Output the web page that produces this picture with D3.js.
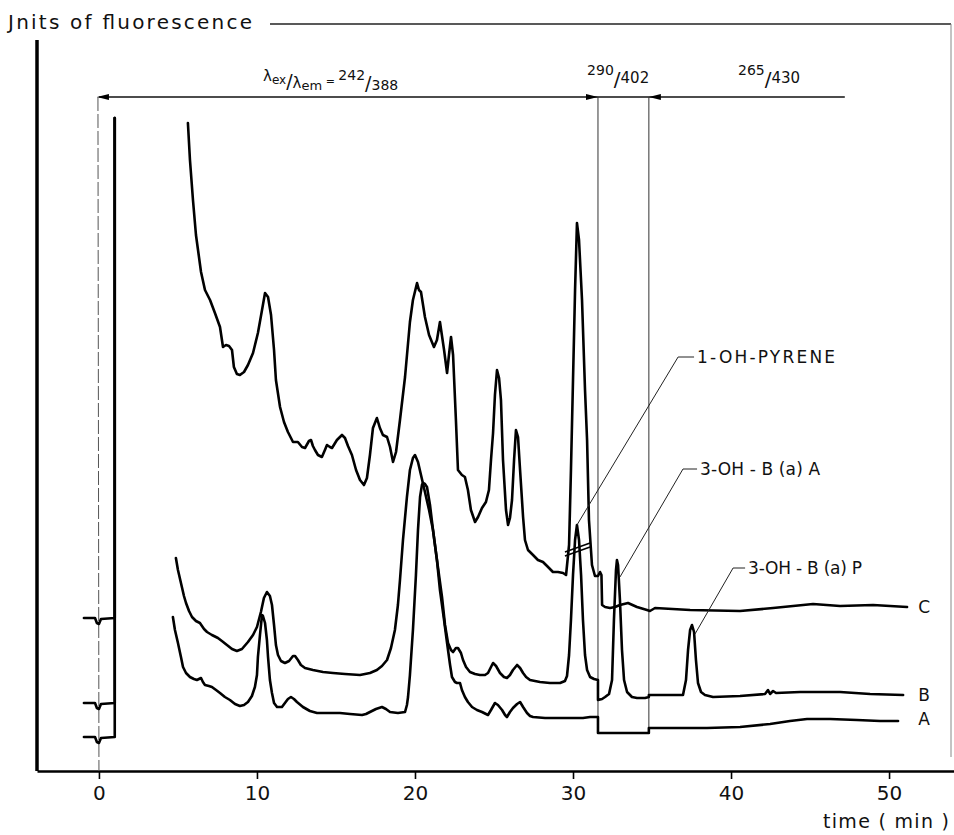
<!DOCTYPE html>
<html><head><meta charset="utf-8">
<script src="https://cdn.jsdelivr.net/npm/d3@7"></script>
<style>body{margin:0;background:#fff}svg{display:block}text{font-family:"DejaVu Sans",sans-serif;fill:#111}</style>
</head><body>
<svg id="chart" width="954" height="835"></svg>
<script>
// ---- data (time in min, fluorescence in arbitrary units) ----
const xTicks = [0, 10, 20, 30, 40, 50];
const traceLabels = ["C", "B", "A"];
const traceC = [
 [-0.95,153],[-0.25,153],[-0.13,148],[0,147],[0.13,152],[1.0,153],[1.0,653], null,
 [5.63,648],[5.76,611],[5.95,571],[6.14,536],[6.27,521],[6.46,499],[6.71,481],[7.03,471],[7.34,458],[7.66,444],[7.85,424],[8.04,426],[8.23,425],[8.42,421],[8.54,404],[8.73,397],[8.92,396],[9.18,399],[9.43,406],[9.75,418],[10.06,438],[10.32,461],[10.51,478],[10.70,474],[10.89,456],[11.08,421],[11.20,391],[11.46,364],[11.71,349],[11.96,339],[12.28,329],[12.59,329],[12.85,324],[13.04,323],[13.29,330],[13.42,331],[13.54,325],[13.67,321],[13.86,316],[14.11,314],[14.30,321],[14.43,326],[14.62,324],[14.75,323],[15.06,331],[15.38,336],[15.57,333],[15.76,325],[16.01,316],[16.27,301],[16.52,291],[16.77,286],[16.96,293],[17.15,316],[17.34,343],[17.59,353],[17.78,343],[17.97,336],[18.23,334],[18.42,324],[18.61,309],[18.80,319],[19.05,351],[19.37,394],[19.68,449],[19.87,471],[20.13,488],[20.25,481],[20.38,479],[20.63,454],[20.89,436],[21.20,424],[21.39,431],[21.58,449],[21.84,421],[22.03,398],[22.15,416],[22.28,434],[22.41,416],[22.59,351],[22.72,301],[22.97,296],[23.16,294],[23.35,281],[23.54,261],[23.80,249],[23.99,254],[24.24,263],[24.49,269],[24.68,281],[24.81,311],[24.94,338],[25.06,376],[25.19,401],[25.32,393],[25.44,371],[25.57,311],[25.76,261],[25.89,246],[26.01,253],[26.14,271],[26.27,311],[26.39,341],[26.52,334],[26.65,301],[26.84,254],[26.96,231],[27.15,221],[27.47,216],[27.78,211],[28.10,209],[28.42,204],[28.73,199],[29.05,199],[29.37,198],[29.56,196],[29.75,226],[29.87,301],[30.00,391],[30.13,481],[30.25,548],[30.38,531],[30.57,471],[30.76,381],[30.89,331],[31.01,251],[31.20,206],[31.39,195],[31.58,195],[31.71,199],[31.80,196],[31.84,166],[32.03,164],[32.34,163],[32.66,164],[32.97,166],[33.48,168],[34.05,164],[34.68,161],[34.87,160],[35.19,163],[37.41,161],[40.57,160],[42.66,163],[45.19,167],[46.90,165],[48.99,166],[51.14,164]
];
const traceB = [
 [-0.95,68],[-0.25,68],[-0.13,63],[0,62],[0.13,67],[1.0,68],[1.0,653], null,
 [4.87,213],[5.00,201],[5.19,188],[5.38,175],[5.51,168],[5.70,160],[5.89,154],[6.14,150],[6.39,148],[6.65,142],[6.84,139],[7.15,136],[7.53,133],[7.78,130],[8.10,126],[8.42,122],[8.73,120],[9.05,122],[9.43,129],[9.75,136],[10.00,144],[10.25,159],[10.44,173],[10.63,179],[10.82,175],[10.95,166],[11.08,146],[11.20,126],[11.33,116],[11.52,110],[11.77,108],[12.03,110],[12.28,115],[12.41,115],[12.59,111],[12.78,106],[13.04,103],[13.54,101],[14.18,99],[14.81,98],[15.57,97],[16.52,96],[17.15,98],[17.59,101],[17.91,105],[18.23,111],[18.48,123],[18.73,141],[18.92,166],[19.05,191],[19.24,231],[19.49,274],[19.68,301],[19.87,313],[20.00,316],[20.19,309],[20.38,296],[20.63,279],[20.89,261],[21.14,241],[21.39,211],[21.71,174],[21.90,146],[22.09,128],[22.28,121],[22.41,119],[22.59,123],[22.72,123],[22.91,118],[23.04,111],[23.23,104],[23.48,99],[23.80,97],[24.11,96],[24.43,96],[24.62,98],[24.81,104],[24.94,108],[25.13,105],[25.38,98],[25.63,94],[25.82,93],[26.01,96],[26.20,101],[26.46,106],[26.65,103],[26.84,98],[27.03,94],[27.28,91],[27.59,90],[27.91,89],[28.54,88],[29.18,88],[29.49,90],[29.62,95],[29.75,116],[29.87,151],[30.00,196],[30.13,231],[30.25,246],[30.38,231],[30.51,196],[30.63,151],[30.76,116],[30.89,101],[31.08,94],[31.33,92],[31.58,91],[31.58,71],[31.84,72],[32.03,74],[32.28,77],[32.47,91],[32.59,151],[32.72,201],[32.78,211],[32.85,206],[32.97,171],[33.10,121],[33.23,91],[33.42,79],[33.73,74],[34.05,73],[34.56,73],[34.80,74],[34.80,76],[35.51,76],[36.14,76],[36.96,76],[37.15,91],[37.28,121],[37.41,141],[37.53,146],[37.66,139],[37.78,111],[37.91,88],[38.10,79],[38.35,76],[38.86,74],[40.57,75],[42.15,77],[42.34,81],[42.47,77],[42.66,80],[42.85,78],[44.37,79],[46.90,79],[48.80,77],[50.89,76]
];
const traceA = [
 [-0.95,34],[-0.25,34],[-0.13,29],[0,28],[0.13,33],[1.0,34],[1.0,653], null,
 [4.68,154],[4.81,141],[5.00,128],[5.19,114],[5.32,104],[5.51,98],[5.76,94],[6.01,92],[6.20,91],[6.33,92],[6.46,93],[6.58,89],[6.71,86],[6.96,85],[7.15,84],[7.41,81],[7.66,78],[7.97,74],[8.29,71],[8.61,67],[8.92,65],[9.18,66],[9.43,69],[9.68,75],[9.87,84],[10.00,96],[10.06,114],[10.19,136],[10.32,156],[10.38,155],[10.51,148],[10.63,131],[10.70,114],[10.82,91],[10.95,78],[11.08,68],[11.27,64],[11.58,64],[11.77,68],[11.96,72],[12.15,74],[12.34,72],[12.53,69],[12.91,64],[13.35,60],[13.80,58],[14.62,58],[15.25,58],[15.89,57],[16.65,56],[16.90,57],[17.15,59],[17.53,62],[17.91,64],[18.16,62],[18.42,59],[18.92,58],[19.37,59],[19.49,66],[19.56,74],[19.68,96],[19.87,141],[20.06,196],[20.19,241],[20.32,274],[20.44,286],[20.51,288],[20.63,287],[20.76,284],[20.95,266],[21.14,241],[21.39,211],[21.58,181],[21.84,151],[22.03,128],[22.22,106],[22.34,94],[22.53,89],[22.66,88],[22.85,88],[22.97,81],[23.16,74],[23.35,69],[23.61,64],[23.92,61],[24.24,59],[24.62,56],[24.81,61],[25.06,68],[25.25,66],[25.51,61],[25.70,56],[25.82,54],[26.01,59],[26.20,63],[26.46,67],[26.65,69],[26.84,64],[27.09,58],[27.28,55],[27.47,54],[28.23,53],[29.18,53],[30.13,53],[30.63,53],[31.08,54],[31.58,54],[31.58,38],[32.97,38],[34.80,38],[34.80,43],[36.77,43],[38.48,43],[40.57,44],[42.47,47],[43.73,50],[44.81,52],[46.27,52],[47.97,51],[49.43,50],[50.57,50]
];
const traceEnds = [[51.84,164],[51.84,76],[51.84,52]];
const programTimes = [0, 31.58, 34.8];
const programLabels = [["242","388"],["290","402"],["265","430"]];
const peakNames = ["1-OH-PYRENE", "3-OH - B (a) A", "3-OH - B (a) P"];
// leader: [peak time, peak value, elbow time, elbow value, text time]
const peakLeaders = [[30.25,246,36.65,414,37.85],[32.97,194,36.96,302,38.04],[37.72,137,40.13,203,41.08]];
const breakMarks = [[[29.49,215],[31.08,224]],[[29.49,219],[31.08,228]]];

// ---- scales ----
const svg = d3.select("#chart");
const x = d3.scaleLinear().domain([-3.92, 54.11]).range([37, 954]);
const y = d3.scaleLinear().domain([0, 750]).range([771, 21]);

// frame line top + right
svg.append("line").attr("x1",270).attr("x2",951).attr("y1",y(747)).attr("y2",y(747)).attr("stroke","#222").attr("stroke-width",1.4);
svg.append("line").attr("x1",951).attr("x2",951).attr("y1",y(747)).attr("y2",y(14)).attr("stroke","#888").attr("stroke-width",1);

// y axis title
svg.append("text").attr("x",8).attr("y",29).attr("font-size",20).attr("textLength",244).attr("lengthAdjust","spacing").text("Jnits of fluorescence");

// left axis
svg.append("line").attr("x1",x(-3.92)).attr("x2",x(-3.92)).attr("y1",y(0)).attr("y2",y(731)).attr("stroke","#000").attr("stroke-width",3.5);

// bottom axis
const gx = svg.append("g").attr("transform",`translate(0,${y(0)})`)
  .call(d3.axisBottom(x).tickValues(xTicks).tickSize(8).tickSizeOuter(0).tickPadding(7).tickFormat(d3.format("d")));
gx.select(".domain").attr("stroke","#000").attr("stroke-width",2.6);
gx.selectAll(".tick line").attr("stroke","#000").attr("stroke-width",1.6);
gx.selectAll(".tick text").attr("font-size",20).attr("font-family","DejaVu Sans").attr("fill","#111");
svg.append("text").attr("x",823).attr("y",828).attr("font-size",19).attr("textLength",126).attr("lengthAdjust","spacing").text("time ( min )");

// program lines
const topV = 674;
svg.append("line").attr("x1",x(programTimes[0])).attr("x2",x(47.2)).attr("y1",y(topV)).attr("y2",y(topV)).attr("stroke","#111").attr("stroke-width",1.4);
svg.append("line").attr("x1",x(programTimes[0])-1).attr("x2",x(programTimes[0])).attr("y1",y(topV)).attr("y2",y(0)).attr("stroke","#555").attr("stroke-width",1).attr("stroke-dasharray","14,3");
[1,2].forEach(i=>{
  svg.append("line").attr("x1",x(programTimes[i])).attr("x2",x(programTimes[i])).attr("y1",y(topV)).attr("y2",y(38)).attr("stroke","#333").attr("stroke-width",1);
});
function arrow(tipX, dir){
  const ty=y(topV);
  svg.append("path").attr("d",`M${tipX},${ty}L${tipX+dir*12},${ty-3}L${tipX+dir*12},${ty+3}Z`).attr("fill","#000");
}
arrow(x(programTimes[0])-2, 1);
arrow(x(programTimes[1]), -1);
arrow(x(programTimes[2]), 1);

// program labels
const l0 = svg.append("text").attr("x",263).attr("y",81);
l0.append("tspan").attr("font-size",15).text("λ");
l0.append("tspan").attr("font-size",12).attr("y",84).text("ex");
l0.append("tspan").attr("font-size",19).attr("y",88).text("/");
l0.append("tspan").attr("font-size",15).attr("y",88).text("λ");
l0.append("tspan").attr("font-size",13).attr("y",90).text("em");
l0.append("tspan").attr("font-size",11).attr("y",85).text(" = ");
l0.append("tspan").attr("font-size",14).attr("y",80).text(programLabels[0][0]);
l0.append("tspan").attr("font-size",19).attr("y",90).text("/");
l0.append("tspan").attr("font-size",14).attr("y",90).text(programLabels[0][1]);
[[30.89,1],[40.44,2]].forEach(([t,i])=>{
  const tx = svg.append("text").attr("x",x(t)).attr("y",75);
  tx.append("tspan").attr("font-size",14).text(programLabels[i][0]);
  tx.append("tspan").attr("font-size",20).attr("y",86).text("/");
  tx.append("tspan").attr("font-size",15).attr("y",83).text(programLabels[i][1]);
});

// traces
const line = d3.line().defined(d=>d!==null).x(d=>x(d[0])).y(d=>y(d[1]));
[traceC, traceB, traceA].forEach(tr=>{
  svg.append("path").datum(tr).attr("d",line).attr("fill","none").attr("stroke","#000").attr("stroke-width",2.6).attr("stroke-linejoin","round").attr("stroke-linecap","round");
});
traceLabels.forEach((lab,i)=>{
  svg.append("text").attr("x",x(traceEnds[i][0])).attr("y",y(traceEnds[i][1])).attr("dy","0.36em").attr("font-size",17).text(lab);
});

// break marks
breakMarks.forEach(b=>{
  svg.append("line").attr("x1",x(b[0][0])).attr("y1",y(b[0][1])).attr("x2",x(b[1][0])).attr("y2",y(b[1][1])).attr("stroke","#000").attr("stroke-width",1.6);
});

// peak annotations
const nameW = [138,120,114];
peakLeaders.forEach((p,i)=>{
  svg.append("path").attr("d",`M${x(p[0])},${y(p[1])}L${x(p[2])},${y(p[3])}L${x(p[4])-3},${y(p[3])}`).attr("fill","none").attr("stroke","#222").attr("stroke-width",1);
  svg.append("text").attr("x",x(p[4])).attr("y",y(p[3])).attr("dy","0.36em").attr("font-size",17).attr("textLength",nameW[i]).attr("lengthAdjust","spacing").text(peakNames[i]);
});
</script>
</body></html>
